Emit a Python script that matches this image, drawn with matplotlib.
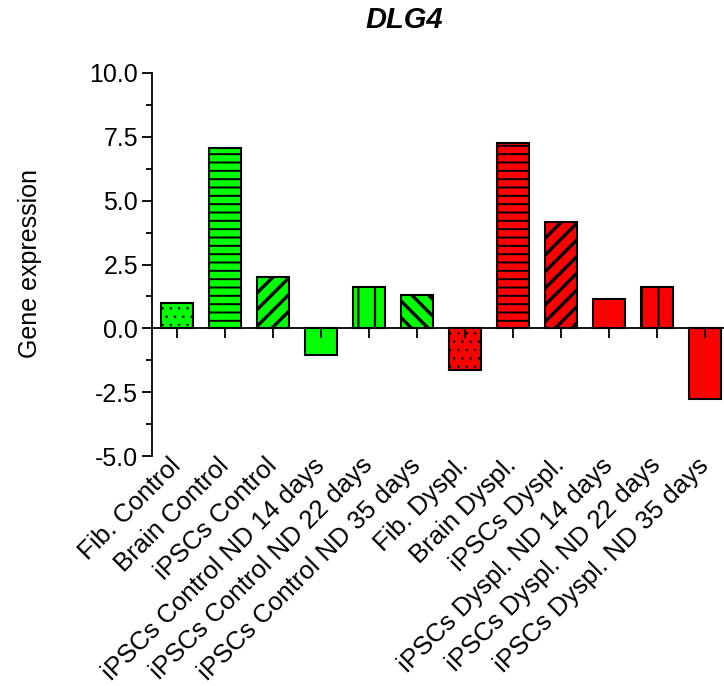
import numpy as np
import matplotlib.pyplot as plt
from matplotlib import transforms

plt.rcParams['font.family'] = ['Liberation Sans', 'DejaVu Sans']

labels = ['Fib. Control', 'Brain Control', 'iPSCs Control',
          'iPSCs Control ND 14 days', 'iPSCs Control ND 22 days',
          'iPSCs Control ND 35 days', 'Fib. Dyspl.', 'Brain Dyspl.',
          'iPSCs Dyspl.', 'iPSCs Dyspl. ND 14 days',
          'iPSCs Dyspl. ND 22 days', 'iPSCs Dyspl. ND 35 days']
values = [1.0, 7.05, 2.0, -1.05, 1.6, 1.3,
          -1.65, 7.25, 4.15, 1.15, 1.6, -2.75]
colors = ['#00ff00'] * 6 + ['#ff0000'] * 6
hatches = ['..', '--', '//', '', '|', '\\\\',
           '..', '--', '//', '', '|', '']
hatch_widths = [0.6, 1.4, 2.4, 1.0, 1.6, 2.4,
                0.6, 1.4, 2.4, 1.0, 1.6, 1.0]


def main():
    fig = plt.figure(figsize=(7.24, 6.86), dpi=100)
    ax = fig.add_axes([152 / 724, 1 - 456 / 686, 572 / 724, 383 / 686])

    x = np.arange(len(values))
    for xi, v, c, h, hw in zip(x, values, colors, hatches, hatch_widths):
        with plt.rc_context({'hatch.linewidth': hw}):
            ax.bar(xi, v, width=0.67, color=c, edgecolor='black',
                   linewidth=1.5, hatch=h, zorder=1)

    ax.set_xlim(-0.52, 11.4)
    ax.set_ylim(-5, 10)
    ax.set_yticks(np.arange(-5, 10.1, 2.5))
    ax.set_yticklabels(['%.1f' % t for t in np.arange(-5, 10.1, 2.5)])
    ax.set_yticks(np.arange(-5, 10.1, 1.25), minor=True)

    ax.spines['top'].set_visible(False)
    ax.spines['right'].set_visible(False)
    ax.spines['bottom'].set_position(('data', 0))
    ax.spines['left'].set_linewidth(1.3)
    ax.spines['bottom'].set_linewidth(1.3)

    ax.set_xticks(x)
    ax.set_xticklabels([])
    ax.tick_params(axis='x', direction='out', length=7, width=1.3)
    ax.tick_params(axis='y', which='major', direction='out', length=7,
                   width=1.3, labelsize=18, pad=3)
    ax.tick_params(axis='y', which='minor', direction='out', length=4,
                   width=1.3)

    # category names hang below the axis, rotated
    offset = transforms.offset_copy(ax.transData, fig=fig, x=-6, y=2,
                                    units='points')
    for xi, lab in zip(x, labels):
        ax.text(xi, -5, lab, rotation=45, ha='right', va='top',
                rotation_mode='anchor', fontsize=18.5, transform=offset)

    fig.text(404 / 724, 1 - 20 / 686, 'DLG4', fontsize=21,
             fontweight='bold', fontstyle='italic', ha='center', va='center')
    fig.text(30 / 724, 1 - 264 / 686, 'Gene expression', fontsize=18,
             rotation=90, ha='center', va='center')

    fig.savefig('out.png', dpi=100)


if __name__ == '__main__':
    main()
